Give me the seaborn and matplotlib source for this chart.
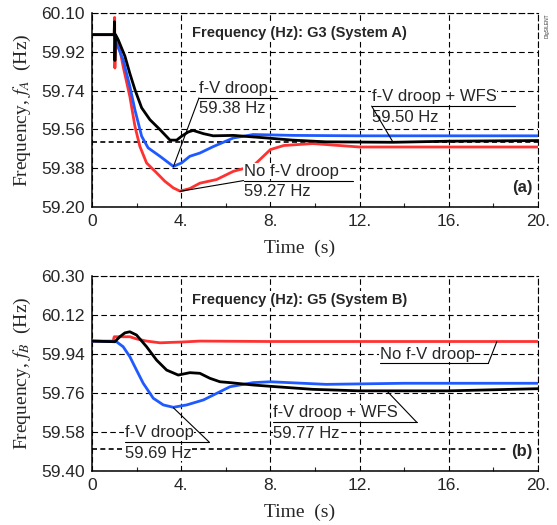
import numpy as np
import pandas as pd
import matplotlib.pyplot as plt
import seaborn as sns

# --- data ---
# (a) G3, System A
t_a_red = [0, 1.0, 1.02, 1.03, 1.06, 1.18, 1.4, 1.7, 1.93, 2.15, 2.45, 2.9, 3.27, 3.65, 3.95, 4.39,
           4.84, 5.59, 6.34, 7.23, 8.0, 8.6, 9.9, 12, 16, 20]
f_a_red = [60.0, 60.0, 60.08, 59.845, 59.99, 59.97, 59.852, 59.713, 59.574, 59.481, 59.404, 59.358,
           59.319, 59.288, 59.273, 59.285, 59.31, 59.327, 59.365, 59.39, 59.466, 59.485, 59.494, 59.478,
           59.478, 59.478]
t_a_blue = [0, 1.05, 1.1, 1.4, 1.7, 1.93, 2.23, 2.52, 3.05, 3.65, 4.02, 4.39, 4.84, 5.44, 6.34, 7.23,
            9, 12, 16, 20]
f_a_blue = [60.0, 60.0, 59.96, 59.883, 59.76, 59.65, 59.528, 59.474, 59.435, 59.388, 59.404, 59.435,
            59.45, 59.48, 59.52, 59.536, 59.532, 59.53, 59.53, 59.53]
t_a_black = [0, 1.0, 1.01, 1.03, 1.06, 1.18, 1.48, 1.7, 1.93, 2.23, 2.6, 3.05, 3.5, 3.8, 4.02, 4.32,
             4.54, 5.0, 5.44, 6.34, 7.83, 9.0, 10.5, 13.5, 16, 20]
f_a_black = [60.0, 60.0, 60.06, 59.88, 60.0, 59.976, 59.90, 59.82, 59.744, 59.66, 59.605, 59.559,
             59.51, 59.51, 59.528, 59.548, 59.555, 59.54, 59.53, 59.532, 59.52, 59.51, 59.502, 59.50,
             59.505, 59.508]

# (b) G5, System B
t_b_red = [0, 0.95, 1.0, 1.7, 2.0, 2.45, 3.05, 4.1, 4.84, 8, 12, 16, 20]
f_b_red = [60.0, 60.0, 60.02, 60.02, 60.01, 60.0, 59.992, 59.996, 60.0, 59.998, 59.998, 59.998, 59.998]
t_b_blue = [0, 1.1, 1.4, 1.7, 2.0, 2.3, 2.75, 3.2, 3.65, 4.25, 5.0, 5.74, 6.19, 7.23, 8.0, 10.5, 14, 20]
f_b_blue = [60.0, 59.997, 59.974, 59.928, 59.866, 59.805, 59.736, 59.705, 59.694, 59.705, 59.728,
            59.766, 59.789, 59.808, 59.812, 59.80, 59.805, 59.805]
t_b_black = [0, 1.03, 1.25, 1.48, 1.7, 2.0, 2.45, 2.9, 3.35, 3.87, 4.39, 4.84, 5.29, 5.74, 6.19, 7.23,
             8.13, 9.9, 12, 16, 20]
f_b_black = [60.0, 59.997, 60.02, 60.038, 60.043, 60.028, 59.974, 59.912, 59.866, 59.843, 59.854,
             59.851, 59.828, 59.812, 59.808, 59.797, 59.79, 59.777, 59.77, 59.77, 59.78]

ref_line = 59.50

xticks = [0, 4, 8, 12, 16, 20]
xtick_labels = ["0", "4.", "8.", "12.", "16.", "20."]
yticks_a = [59.20, 59.38, 59.56, 59.74, 59.92, 60.10]
yticks_b = [59.40, 59.58, 59.76, 59.94, 60.12, 60.30]

RED = "#ff3232"
BLUE = "#1e5aff"
BLACK = "#000000"

sns.set_style("ticks")
plt.rcParams["font.family"] = ["Liberation Sans", "DejaVu Sans"]
plt.rcParams["mathtext.fontset"] = "stix"

fig = plt.figure(figsize=(5.57, 5.25), dpi=100)
ax_a = fig.add_axes([0.165, 0.606, 0.801, 0.369])
ax_b = fig.add_axes([0.165, 0.103, 0.801, 0.371])

label_font = dict(family=["Liberation Serif", "DejaVu Serif"], size=14)
white_box = dict(facecolor="white", edgecolor="none", pad=0.5)


def draw_curve(ax, t, f, color, z):
    df = pd.DataFrame({"t": t, "f": f})
    sns.lineplot(data=df, x="t", y="f", ax=ax, color=color, lw=2.0, estimator=None,
                 sort=False, zorder=z)


def style_axes(ax, yticks, ylabel):
    ax.set_xlim(0, 20)
    ax.set_ylim(yticks[0], yticks[-1])
    ax.set_xticks(xticks)
    ax.set_xticklabels(xtick_labels)
    ax.set_yticks(yticks)
    ax.set_yticklabels([f"{v:.2f}" for v in yticks])
    ax.set_xticks([2, 6, 10, 14, 18], minor=True)
    ax.tick_params(axis="both", which="major", direction="in", length=0, labelsize=12.5, pad=5)
    ax.tick_params(axis="x", which="minor", direction="in", length=3, width=0.8)
    ax.grid(True, which="major", color="black", lw=0.8, ls=(0, (5, 3)))
    for name, s in ax.spines.items():
        s.set_visible(True)
        s.set_color("black")
        if name in ("top", "right"):
            s.set_linewidth(0.8)
            s.set_linestyle((0, (5, 3)))
        else:
            s.set_linewidth(1.1)
    ax.set_xlabel("Time  (s)", **label_font, labelpad=3)
    ax.xaxis.set_label_coords(0.466, -0.17)
    ax.set_ylabel(ylabel, **label_font, labelpad=6)


def note(ax, x0, x1, y_line, txt, sub, px, py, end="left"):
    ax.annotate(txt, (x0, y_line), xytext=(0, 3.5), textcoords="offset points", fontsize=12,
                ha="left", va="baseline", zorder=6, bbox=white_box)
    if sub:
        ax.annotate(sub, (x0, y_line), xytext=(0, -2.5), textcoords="offset points", fontsize=12,
                    ha="left", va="top", zorder=6, bbox=white_box)
    ax.plot([x0, x1], [y_line, y_line], color="black", lw=0.8, zorder=7)
    start = x0 if end == "left" else x1
    ax.plot([start, px], [y_line, py], color="black", lw=0.8, zorder=7)


# ---- panel (a) ----
ax_a.axhline(ref_line, color="black", lw=1.2, ls=(0, (3, 2)), zorder=2)
draw_curve(ax_a, t_a_red, f_a_red, RED, 3)
draw_curve(ax_a, t_a_blue, f_a_blue, BLUE, 4)
draw_curve(ax_a, t_a_black, f_a_black, BLACK, 5)
style_axes(ax_a, yticks_a, "Frequency, $f_A$  (Hz)")
ax_a.text(0.466, 0.898, "Frequency (Hz): G3 (System A)", transform=ax_a.transAxes, ha="center",
          va="center", fontsize=10.5, fontweight="bold",
          bbox=dict(facecolor="white", edgecolor="none", pad=1), zorder=6)
ax_a.text(19.75, 59.29, "(a)", ha="right", va="center", fontsize=12, fontweight="bold", zorder=6,
          bbox=dict(facecolor="white", edgecolor="none", pad=1))
note(ax_a, 4.8, 8.3, 59.706, "f-V droop", "59.38 Hz", 3.65, 59.386, "left")
note(ax_a, 6.8, 11.7, 59.322, "No f-V droop", "59.27 Hz", 3.95, 59.272, "left")
note(ax_a, 12.54, 18.97, 59.668, "f-V droop + WFS", "59.50 Hz", 13.5, 59.50, "left")

# ---- panel (b) ----
ax_b.axhline(ref_line, color="black", lw=1.2, ls=(0, (3, 2)), zorder=2)
draw_curve(ax_b, t_b_red, f_b_red, RED, 3)
draw_curve(ax_b, t_b_blue, f_b_blue, BLUE, 4)
draw_curve(ax_b, t_b_black, f_b_black, BLACK, 5)
style_axes(ax_b, yticks_b, "Frequency, $f_B$  (Hz)")
ax_b.text(0.466, 0.878, "Frequency (Hz): G5 (System B)", transform=ax_b.transAxes, ha="center",
          va="center", fontsize=10.5, fontweight="bold",
          bbox=dict(facecolor="white", edgecolor="none", pad=1), zorder=6)
ax_b.text(19.75, 59.49, "(b)", ha="right", va="center", fontsize=12, fontweight="bold", zorder=6,
          bbox=dict(facecolor="white", edgecolor="none", pad=3))
note(ax_b, 12.9, 17.77, 59.897, "No f-V droop", None, 18.15, 59.997, "right")
note(ax_b, 8.13, 14.56, 59.625, "f-V droop + WFS", "59.77 Hz", 13.2, 59.772, "right")
note(ax_b, 1.48, 5.26, 59.533, "f-V droop", "59.69 Hz", 3.65, 59.692, "right")

# small software tag in the corner
fig.text(0.982, 0.975, "DIgSILENT", rotation=90, fontsize=3.5, ha="center", va="top", color="#333333")

plt.savefig("out.png", dpi=100)
